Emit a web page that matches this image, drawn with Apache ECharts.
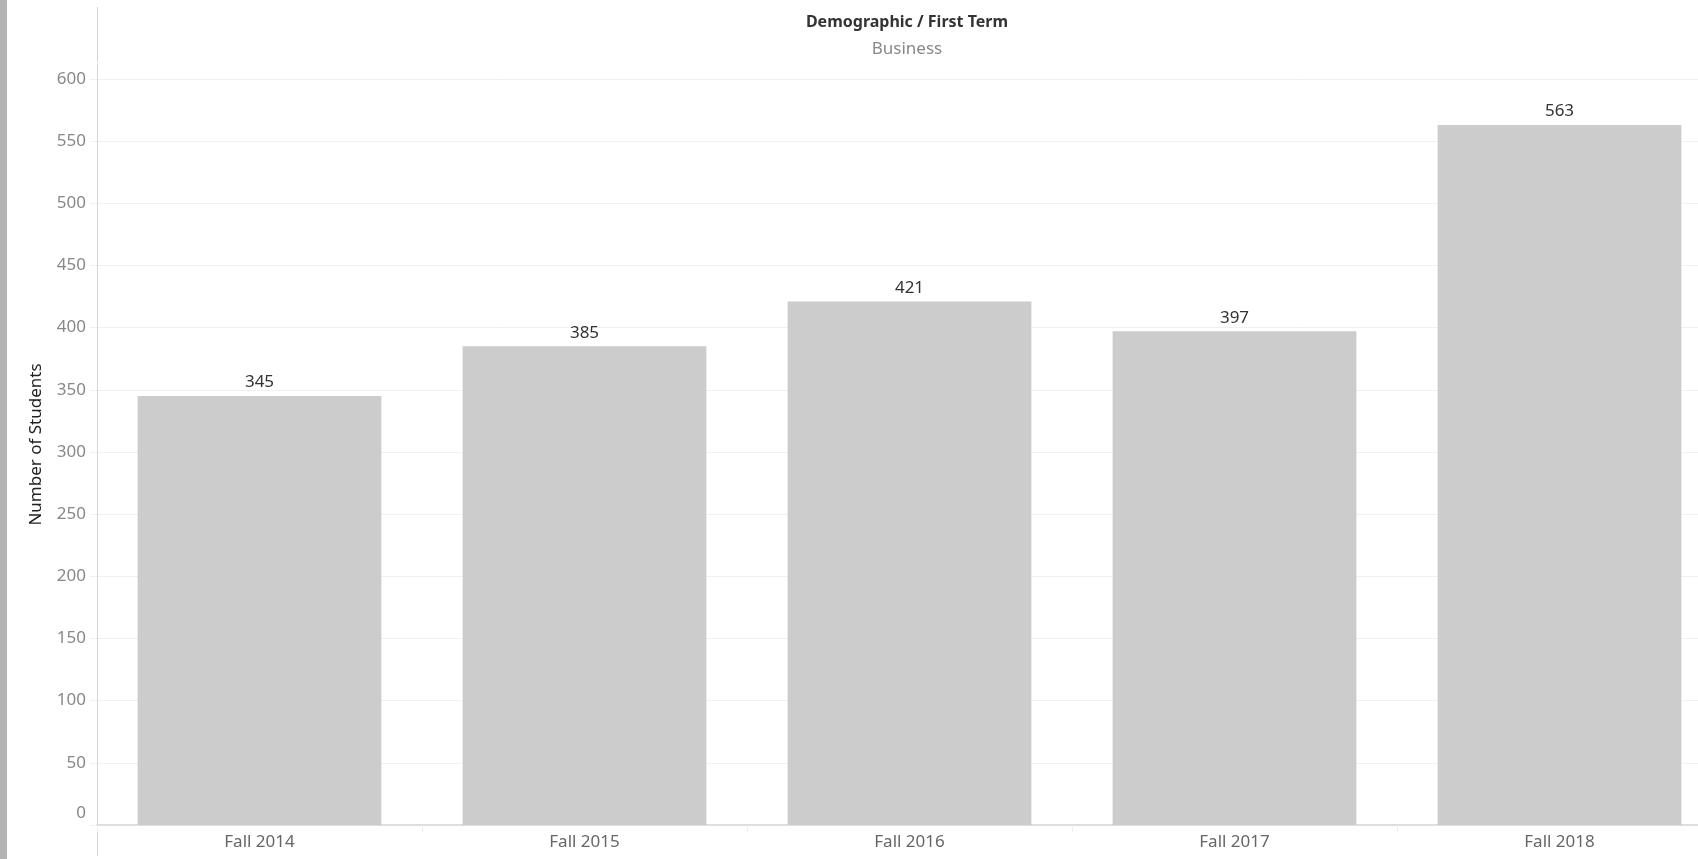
<!DOCTYPE html>
<html>
<head>
<meta charset="utf-8">
<title>Demographic / First Term</title>
<script src="https://cdn.jsdelivr.net/npm/echarts@6/dist/echarts.min.js"></script>
<style>
  html, body { margin: 0; padding: 0; background: #fff; }
  #chart { width: 1698px; height: 859px; }
</style>
</head>
<body>
<div id="chart"></div>
<script>
// data
const terms = ['Fall 2014', 'Fall 2015', 'Fall 2016', 'Fall 2017', 'Fall 2018'];
const students = [345, 385, 421, 397, 563];

const font = 'Noto Sans';
const myChart = echarts.init(document.getElementById('chart'));

const options = {
  animation: false,
  textStyle: { fontFamily: font },
  title: {
    text: 'Demographic / First Term',
    subtext: 'Business',
    left: 902,
    top: 9,
    textAlign: 'center',
    itemGap: 11,
    textStyle: { fontSize: 16, fontWeight: 'bold', color: '#333', fontFamily: font },
    subtextStyle: { fontSize: 17, color: '#888', fontFamily: font }
  },
  // plot runs past the right edge of the window, like the reference
  grid: { left: 97, width: 1625, top: 64, bottom: 34, containLabel: false, outerBoundsMode: 'none' },
  // left gray stripe + pane border above/below the plot
  graphic: [
    { type: 'rect', shape: { x: 0, y: 0, width: 7, height: 859 }, style: { fill: '#b3b3b3' }, silent: true },
    { type: 'line', shape: { x1: 97.5, y1: 7, x2: 97.5, y2: 62 }, style: { stroke: '#d4d4d4', lineWidth: 1 }, silent: true },
    { type: 'line', shape: { x1: 97.5, y1: 828, x2: 97.5, y2: 856 }, style: { stroke: '#d4d4d4', lineWidth: 1 }, silent: true }
  ],
  xAxis: {
    type: 'category',
    data: terms,
    axisLine: { lineStyle: { color: '#dedede', width: 2 } },
    axisTick: { show: true, alignWithLabel: false, length: 7, lineStyle: { color: '#eeeeee' } },
    axisLabel: { color: '#666', fontSize: 17, margin: 9, fontFamily: font }
  },
  yAxis: {
    type: 'value',
    min: 0,
    max: 612,
    interval: 50,
    name: 'Number of Students',
    nameLocation: 'middle',
    nameGap: 52,
    nameTextStyle: { color: '#222', fontSize: 17, fontFamily: font },
    axisLine: { show: true, lineStyle: { color: '#d4d4d4', width: 1 } },
    axisTick: { show: true, length: 7, lineStyle: { color: '#f0f0f0' } },
    splitLine: { show: true, showMaxLine: false, lineStyle: { color: '#f0f0f0' } },
    axisLabel: {
      color: '#888',
      fontSize: 17,
      margin: 11,
      showMaxLabel: false,
      fontFamily: font,
      formatter: function (v) {
        if (v % 50 !== 0) return '';
        return v === 0 ? '{z|0}' : String(v);
      },
      rich: { z: { color: '#888', fontSize: 17, fontFamily: font, padding: [0, 0, 24, 0] } }
    }
  },
  series: [
    {
      name: 'Number of Students',
      type: 'bar',
      data: students,
      barWidth: '75%',
      itemStyle: { color: '#cccccc' },
      label: {
        show: true,
        position: 'top',
        distance: 5,
        color: '#333',
        fontSize: 17,
        fontFamily: font
      }
    }
  ]
};

myChart.setOption(options);
</script>
</body>
</html>
